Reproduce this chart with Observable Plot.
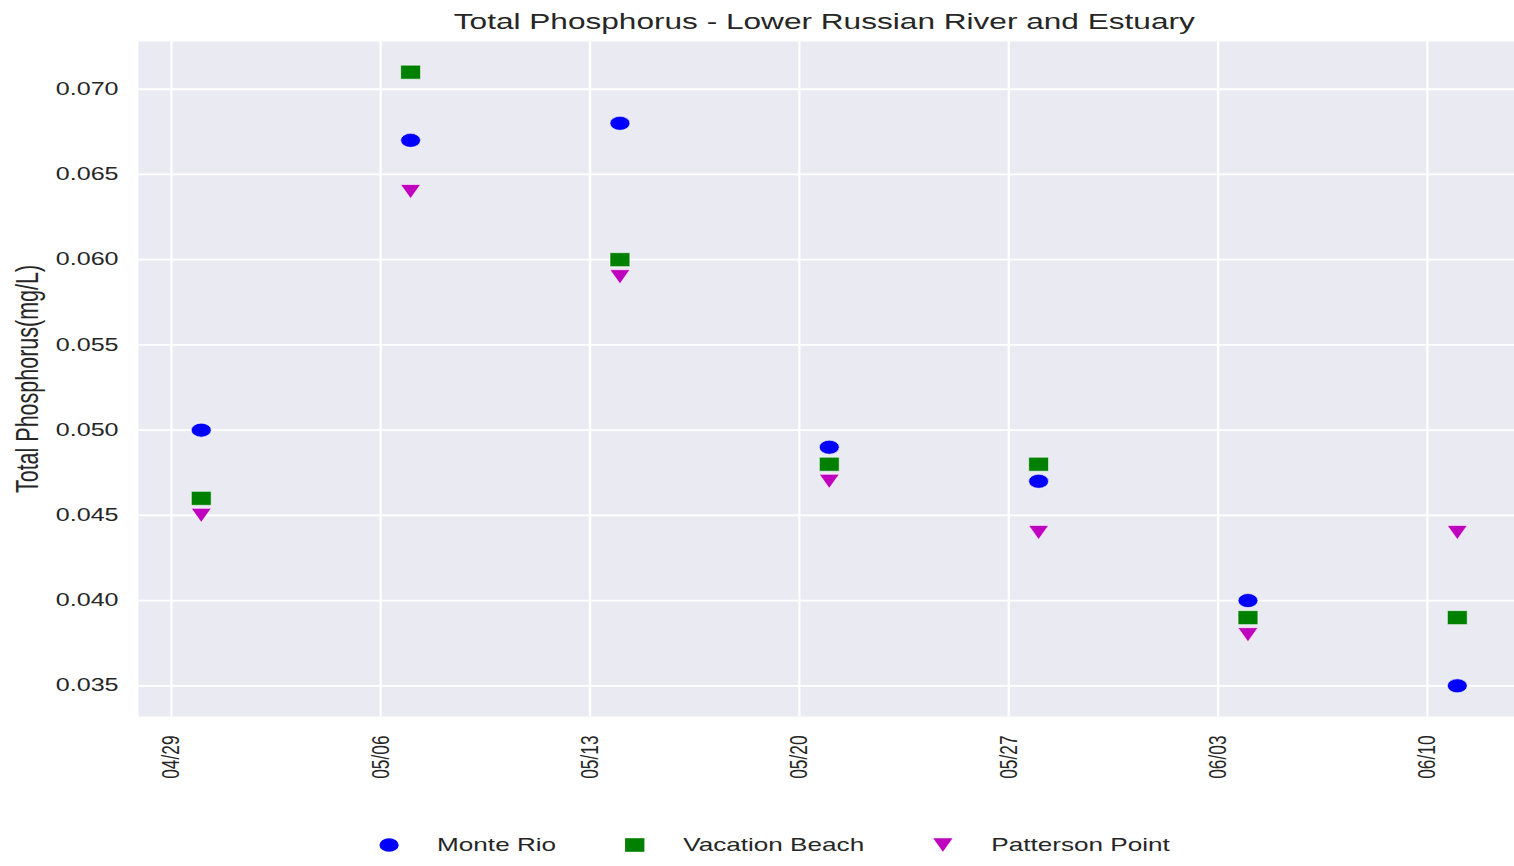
<!DOCTYPE html>
<html><head><meta charset="utf-8">
<script src="https://cdn.jsdelivr.net/npm/d3@7"></script>
<script src="https://cdn.jsdelivr.net/npm/@observablehq/plot@0.6"></script>
<style>
html,body{margin:0;padding:0;background:#fff;overflow:hidden;width:1514px;height:866px}
#wrap{position:relative;width:1071px;height:866px;transform:scaleX(1.42);transform-origin:0 0;font-family:"Liberation Sans",Arial,sans-serif;color:#262626}
#title{position:absolute;left:94px;width:973px;top:8px;text-align:center;font-size:22.25px;line-height:28px;white-space:nowrap}
#chart{position:absolute;left:0;top:0}
#legend{position:absolute;top:833px;left:267px;display:flex;align-items:center;font-size:18.4px;line-height:24px;white-space:nowrap}
#legend .item{display:flex;align-items:center;margin-right:48.7px}
#legend svg{margin-right:26.8px;overflow:visible}
</style></head><body>
<div id="wrap"><div id="chart"></div><div id="title"></div><div id="legend"></div></div>
<script>
const titleText = "Total Phosphorus - Lower Russian River and Estuary";
const yLabel = "Total Phosphorus(mg/L)";
const sampleDates = ["2018-04-30","2018-05-07","2018-05-14","2018-05-21","2018-05-28","2018-06-04","2018-06-11"];
const series = ["Monte Rio","Vacation Beach","Patterson Point"];
const monteRio      = [0.050,0.067,0.068,0.049,0.047,0.040,0.035];
const vacationBeach = [0.046,0.071,0.060,0.048,0.048,0.039,0.039];
const pattersonPoint= [0.045,0.064,0.059,0.047,0.044,0.038,0.044];
const xTicks = ["2018-04-29","2018-05-06","2018-05-13","2018-05-20","2018-05-27","2018-06-03","2018-06-10"];
const yTicks = [0.035,0.040,0.045,0.050,0.055,0.060,0.065,0.070];
const xDomain = ["2018-04-27T21:36:00Z","2018-06-13T02:24:00Z"];
const yDomain = [0.0332,0.0728];

const colors = {"Monte Rio":"#0000ff","Vacation Beach":"#008000","Patterson Point":"#bf00bf"};
const circleSym = {draw(ctx,size){const r=Math.sqrt(size/Math.PI);ctx.moveTo(r,0);ctx.arc(0,0,r,0,2*Math.PI);ctx.closePath();}};
const squareSym = {draw(ctx,size){const r=Math.sqrt(size/Math.PI);ctx.rect(-r,-r,2*r,2*r);}};
const triDownSym = {draw(ctx,size){const r=Math.sqrt(size/Math.PI);ctx.moveTo(0,r);ctx.lineTo(-r,-r);ctx.lineTo(r,-r);ctx.closePath();}};
const symbols = {"Monte Rio":circleSym,"Vacation Beach":squareSym,"Patterson Point":triDownSym};
const values = {"Monte Rio":monteRio,"Vacation Beach":vacationBeach,"Patterson Point":pattersonPoint};

const rows = series.flatMap(s => sampleDates.map((d,i) => ({site:s, date:new Date(d+"T00:00:00Z"), value:values[s][i]})));
const xTickDates = xTicks.map(d => new Date(d+"T00:00:00Z"));

const chart = Plot.plot({
  width:1071, height:866,
  marginLeft:97, marginRight:1, marginTop:41, marginBottom:150,
  style:{fontFamily:'"Liberation Sans",Arial,sans-serif', fontSize:"17.5px", color:"#262626", background:"transparent", overflow:"visible"},
  x:{type:"utc", domain:xDomain.map(d=>new Date(d))},
  y:{domain:yDomain},
  marks:[
    Plot.frame({fill:"#eaeaf2", stroke:null}),
    Plot.gridX(xTickDates, {stroke:"#ffffff", strokeOpacity:1, strokeWidth:1.6}),
    Plot.gridY(yTicks, {stroke:"#ffffff", strokeOpacity:1, strokeWidth:1.8}),
    Plot.axisX(xTickDates, {tickSize:0, tickPadding:19, tickRotate:-90, tickFormat:d3.utcFormat("%m/%d"), label:null, fontSize:17.3}),
    Plot.axisY(yTicks, {tickSize:0, tickPadding:14, tickFormat:d3.format(".3f"), label:null, fontSize:17.7}),
    Plot.axisY({ticks:[], tickSize:0, label:yLabel, labelAnchor:"center", labelArrow:"none", labelOffset:86, fontSize:21.5}),
    ...series.map(s => Plot.dot(rows.filter(r => r.site===s), {x:"date", y:"value", symbol:symbols[s], r:7, fill:colors[s], stroke:"#ffffff", strokeWidth:0.5}))
  ]
});
document.getElementById("chart").appendChild(chart);
document.getElementById("title").textContent = titleText;

const legend = d3.select("#legend");
series.forEach(s => {
  const item = legend.append("div").attr("class","item");
  const svg = item.append("svg").attr("width",14).attr("height",14).attr("viewBox","-7 -7 14 14");
  const p = d3.path();
  symbols[s].draw(p, Math.PI*6.8*6.8);
  svg.append("path").attr("d", p.toString()).attr("fill", colors[s]);
  item.append("span").text(s);
});
</script>
</body></html>
